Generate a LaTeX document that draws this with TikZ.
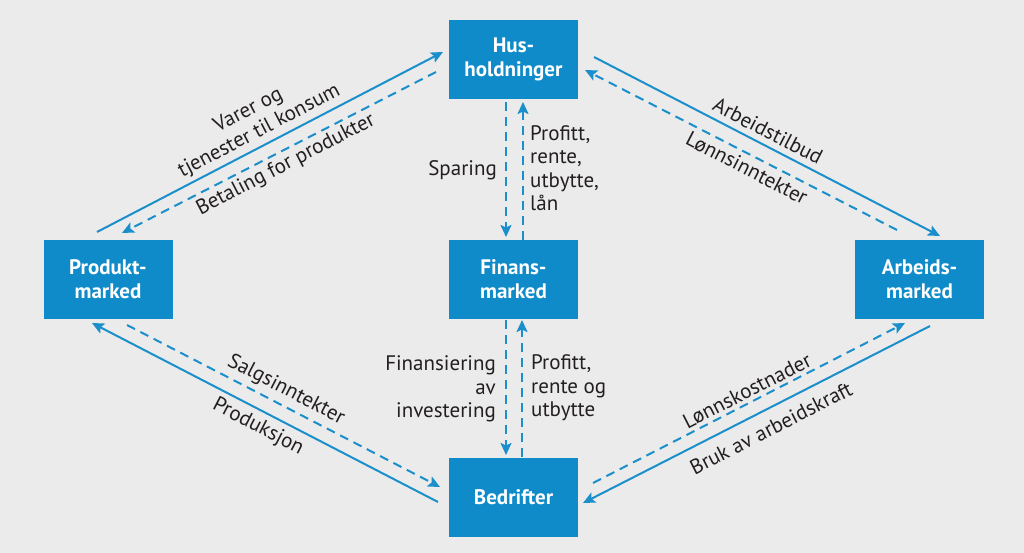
\documentclass[tikz,border=0pt]{standalone}
\usepackage{fontspec}
\setmainfont{PT Sans}
\usetikzlibrary{arrows.meta}
\definecolor{bg}{HTML}{EBEBEB}
\definecolor{boxblue}{HTML}{0E8BC8}
\definecolor{arr}{HTML}{1A8FCB}
\definecolor{txt}{HTML}{231F20}
\begin{document}
\begin{tikzpicture}[x=1pt,y=1pt,
 box/.style={fill=boxblue, minimum width=129pt, minimum height=79pt, inner sep=0pt, text=white, font=\fontsize{21}{23.5}\selectfont\bfseries, align=center},
 lbl/.style={text=txt, font=\fontsize{21}{23.5}\selectfont, inner sep=0pt},
 flow/.style={draw=arr, line width=2pt, -{Stealth[length=12pt,width=11pt,inset=2.5pt]}},
 money/.style={flow, dash pattern=on 9pt off 6pt}]
\fill[bg] (0,0) rectangle (1024,-553);
\useasboundingbox (0,0) rectangle (1024,-553);
% boxes
\node[box] (hus) at (513.5,-59.5) {Hus-\\holdninger};
\node[box] (prod) at (108,-279) {Produkt-\\marked};
\node[box] (fin) at (513.5,-279) {Finans-\\marked};
\node[box] (arb) at (919.5,-279) {Arbeids-\\marked};
\node[box] (bed) at (513.5,-497.5) {Bedrifter};
% connector end points
\coordinate (tlS0) at (97,-232);  \coordinate (tlS1) at (443,-52);
\coordinate (tlD0) at (436,-72);  \coordinate (tlD1) at (122,-233);
\coordinate (trS0) at (594,-57);  \coordinate (trS1) at (940,-236);
\coordinate (trD0) at (897,-230); \coordinate (trD1) at (585,-70);
\coordinate (blS0) at (438,-502); \coordinate (blS1) at (92,-323);
\coordinate (blD0) at (127,-325); \coordinate (blD1) at (440,-487);
\coordinate (brD0) at (593,-483); \coordinate (brD1) at (905,-323);
\coordinate (brS0) at (930,-326); \coordinate (brS1) at (583,-503);
\coordinate (vtD0) at (506,-102); \coordinate (vtD1) at (506,-237);
\coordinate (vtU0) at (523,-240); \coordinate (vtU1) at (523,-102);
\coordinate (vbD0) at (506,-320); \coordinate (vbD1) at (506,-455);
\coordinate (vbU0) at (522,-457); \coordinate (vbU1) at (522,-320);
% connectors
\draw[flow] (tlS0) -- (tlS1);
\draw[money] (tlD0) -- (tlD1);
\draw[flow] (trS0) -- (trS1);
\draw[money] (trD0) -- (trD1);
\draw[flow] (blS0) -- (blS1);
\draw[money] (blD0) -- (blD1);
\draw[money] (brD0) -- (brD1);
\draw[flow] (brS0) -- (brS1);
\draw[money] (vtD0) -- (vtD1);
\draw[money] (vtU0) -- (vtU1);
\draw[money] (vbD0) -- (vbD1);
\draw[money] (vbU0) -- (vbU1);
% labels
\node[lbl, align=center, rotate=27.5] (l1) at (254,-121) {Varer og\\tjenester til konsum};
\node[lbl, rotate=27.5] (l2) at (286,-165) {Betaling for produkter};
\node[lbl, rotate=-27.4] (l3) at (768,-131) {Arbeidstilbud};
\node[lbl, rotate=-27.4] (l4) at (747,-168) {Lønnsinntekter};
\node[lbl, rotate=-27.4] (l5) at (286,-390) {Salgsinntekter};
\node[lbl, rotate=-27.4] (l6) at (258,-427) {Produksjon};
\node[lbl, rotate=27] (l7) at (747,-391) {Lønnskostnader};
\node[lbl, rotate=27] (l8) at (771,-428) {Bruk av arbeidskraft};
\node[lbl, anchor=east] (l9) at (497,-170) {Sparing};
\node[lbl, anchor=west, align=left] (l10) at (530,-168) {Profitt,\\rente,\\utbytte,\\lån};
\node[lbl, anchor=east, align=right] (l11) at (496,-389) {Finansiering\\av\\investering};
\node[lbl, anchor=west, align=left] (l12) at (531,-388) {Profitt,\\rente og\\utbytte};
\end{tikzpicture}
\end{document}
